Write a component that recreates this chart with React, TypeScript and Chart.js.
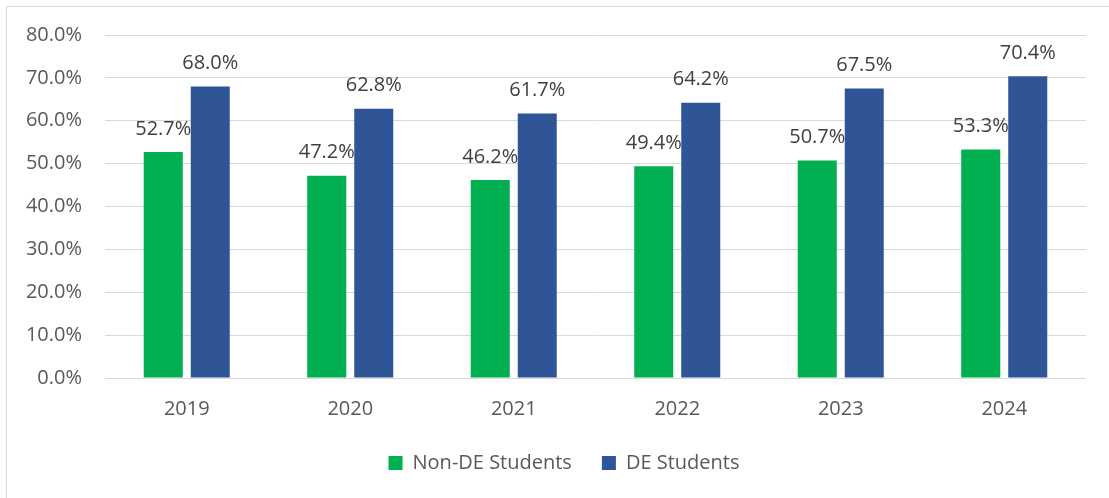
import React, { useEffect, useRef } from "react";
import { Chart, registerables } from "chart.js";

Chart.register(...registerables);

const categories = ["2019", "2020", "2021", "2022", "2023", "2024"];
const nonDeValues = [52.7, 47.2, 46.2, 49.4, 50.7, 53.3];
const deValues = [68.0, 62.8, 61.7, 64.2, 67.5, 70.4];
const seriesNames = ["Non-DE Students", "DE Students"];

const FONT = "'Open Sans', 'Noto Sans', sans-serif";

const valueLabels = {
  id: "valueLabels",
  afterDatasetsDraw(chart: any) {
    const ctx = chart.ctx;
    ctx.save();
    ctx.font = `20px ${FONT}`;
    ctx.fillStyle = "#404040";
    ctx.textAlign = "center";
    ctx.textBaseline = "middle";
    chart.data.datasets.forEach((ds: any, di: number) => {
      const meta = chart.getDatasetMeta(di);
      meta.data.forEach((el: any, i: number) => {
        const v = ds.data[i];
        ctx.fillText(v.toFixed(1) + "%", el.x, el.y - 23);
      });
    });
    ctx.restore();
  },
};

const legendShift = {
  id: "legendShift",
  afterLayout(chart: any) {
    if (chart.legend) {
      chart.legend.left += 21;
      chart.legend.right += 21;
    }
  },
};

export default function App() {
  const ref = useRef<HTMLCanvasElement | null>(null);
  useEffect(() => {
    if (!ref.current) return;
    const chart = new Chart(ref.current, {
      type: "bar",
      data: {
        labels: categories,
        datasets: [
          {
            label: seriesNames[0],
            data: nonDeValues,
            backgroundColor: "#00B050",
            borderWidth: 0,
            categoryPercentage: 0.575,
            barPercentage: 0.83,
          },
          {
            label: seriesNames[1],
            data: deValues,
            backgroundColor: "#2F5597",
            borderWidth: 0,
            categoryPercentage: 0.575,
            barPercentage: 0.83,
          },
        ],
      },
      options: {
        animation: false,
        responsive: false,
        maintainAspectRatio: false,
        layout: { padding: { left: 0, right: 23, top: 35, bottom: 15 } },
        plugins: {
          tooltip: { enabled: false },
          legend: {
            position: "bottom",
            labels: {
              boxWidth: 14,
              boxHeight: 14,
              padding: 30,
              color: "#595959",
              font: { family: FONT, size: 20 },
            },
          },
        },
        scales: {
          x: {
            grid: { display: false, drawTicks: false },
            border: { display: false },
            ticks: {
              color: "#595959",
              font: { family: FONT, size: 20 },
              padding: 19,
            },
            afterFit(scale: any) {
              scale.height = 45;
            },
          },
          y: {
            min: 0,
            max: 80,
            grid: { color: "#d9d9d9", drawTicks: false, lineWidth: 1 },
            border: { display: false },
            ticks: {
              stepSize: 10,
              color: "#595959",
              font: { family: FONT, size: 20 },
              padding: 23,
              callback: (v: any) => Number(v).toFixed(1) + "%",
            },
            afterFit(scale: any) {
              scale.width = 105;
            },
          },
        },
      },
      plugins: [valueLabels, legendShift],
    });
    return () => chart.destroy();
  }, []);

  return (
    <div style={{ position: "fixed", left: 0, top: 0, width: 1109, height: 498, overflow: "hidden", background: "#fff" }}>
      <div
        style={{
          position: "absolute",
          left: 6,
          top: 6,
          width: 1200,
          height: 600,
          border: "1px solid #d9d9d9",
          boxSizing: "border-box",
        }}
      />
      <canvas ref={ref} width={1109} height={498} style={{ position: "absolute", left: 0, top: 0, width: 1109, height: 498 }} />
    </div>
  );
}
